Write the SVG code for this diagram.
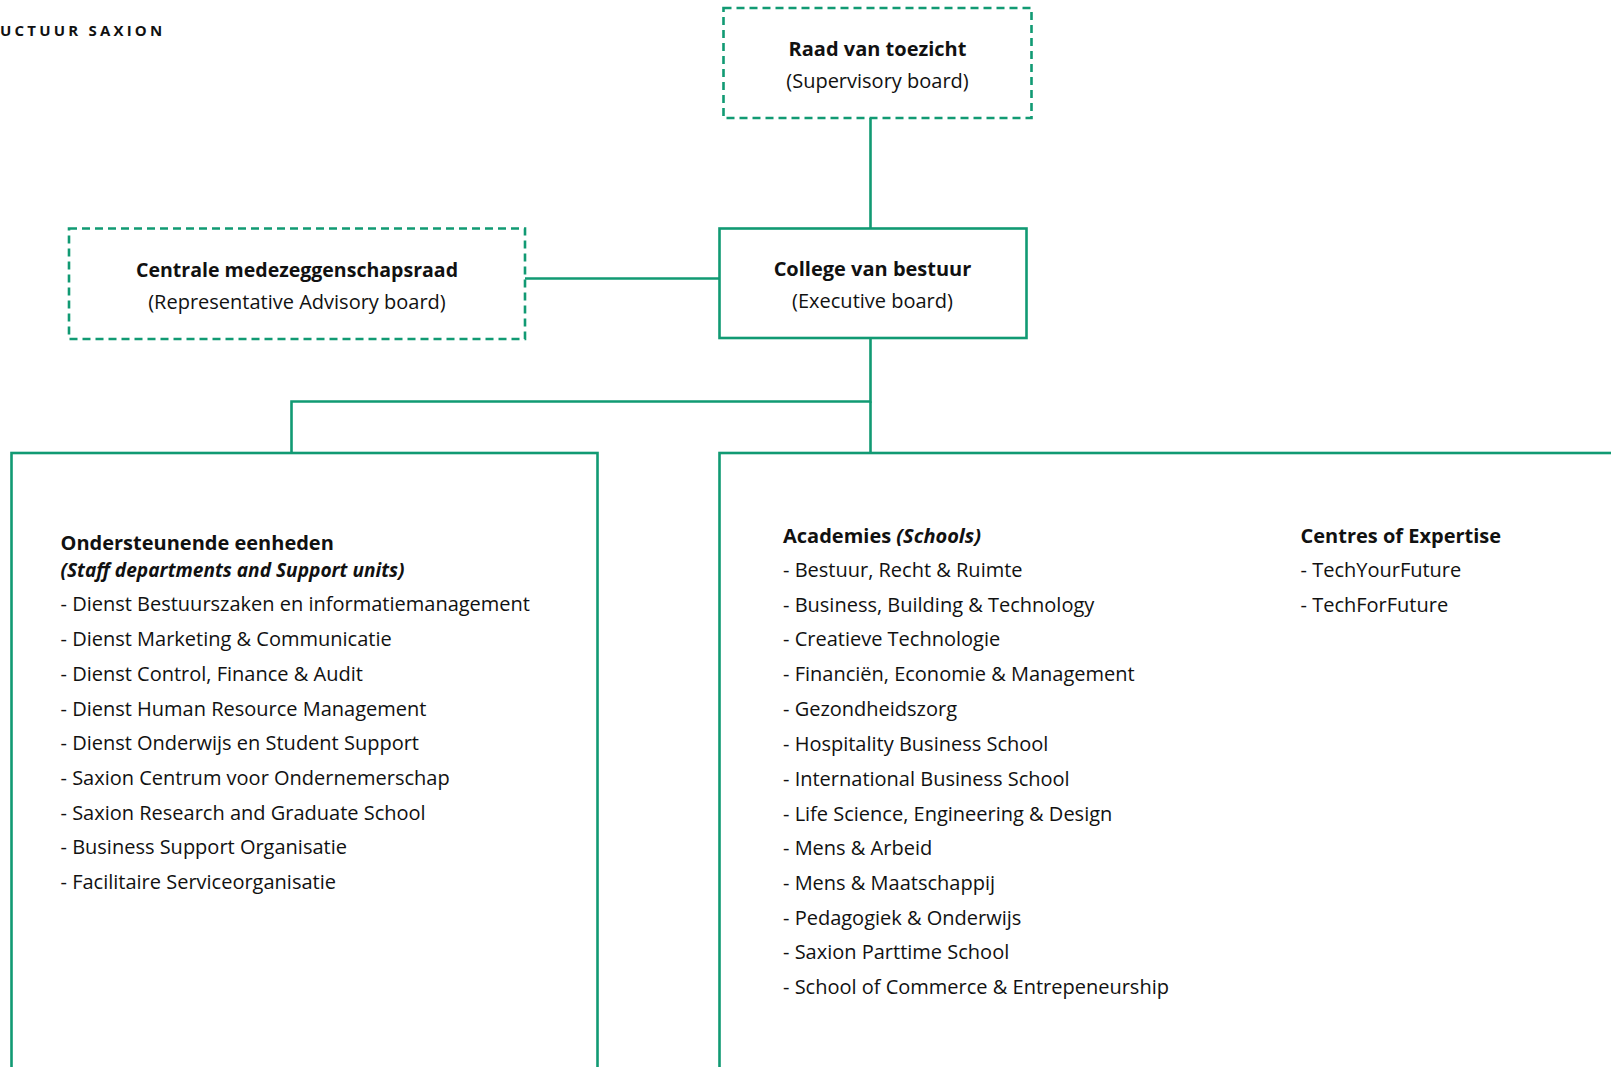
<svg xmlns="http://www.w3.org/2000/svg" width="1611" height="1067" viewBox="0 0 1611 1067">
<style>
.box{fill:#fff;stroke:#119a73;stroke-width:2.6}
.dash{stroke-dasharray:8 5}
.ln{fill:none;stroke:#119a73;stroke-width:2.6}
text{font-family:"Open Sans","Liberation Sans",sans-serif;fill:#111;font-size:20px}
.b{font-weight:700}
.c{text-anchor:middle}
.i{font-style:italic}
.t{font-size:15px;font-weight:700;letter-spacing:3.2px}
</style>
<rect width="1611" height="1067" fill="#fff"/>
<text class="t" x="0" y="36">UCTUUR SAXION</text>
<g id="connectors">
<path class="ln" d="M870.5 118V228"/>
<path class="ln" d="M525 278.5H719"/>
<path class="ln" d="M870.5 338V401.5H291.5V453"/>
<path class="ln" d="M870.5 401.5V453"/>
</g>
<g id="raad">
<rect class="box dash" x="723.5" y="8" width="308" height="110"/>
<text class="b c" x="877.5" y="56">Raad van toezicht</text>
<text class="c" x="877.5" y="88">(Supervisory board)</text>
</g>
<g id="cmr">
<rect class="box dash" x="69" y="228.5" width="456" height="110.5"/>
<text class="b c" x="297" y="277" textLength="322" lengthAdjust="spacingAndGlyphs">Centrale medezeggenschapsraad</text>
<text class="c" x="297" y="309">(Representative Advisory board)</text>
</g>
<g id="cvb">
<rect class="box" x="719.5" y="228.5" width="307" height="109.5"/>
<text class="b c" x="872.5" y="276">College van bestuur</text>
<text class="c" x="872.5" y="308">(Executive board)</text>
</g>
<g id="support">
<rect class="box" x="11.5" y="453" width="586" height="640"/>
<text class="b" x="60.5" y="550">Ondersteunende eenheden</text>
<text class="b i" x="60.5" y="577" textLength="344" lengthAdjust="spacingAndGlyphs">(Staff departments and Support units)</text>
<text x="60.5" y="611">- Dienst Bestuurszaken en informatiemanagement</text>
<text x="60.5" y="646">- Dienst Marketing &amp; Communicatie</text>
<text x="60.5" y="680.5">- Dienst Control, Finance &amp; Audit</text>
<text x="60.5" y="715.5">- Dienst Human Resource Management</text>
<text x="60.5" y="750">- Dienst Onderwijs en Student Support</text>
<text x="60.5" y="784.5">- Saxion Centrum voor Ondernemerschap</text>
<text x="60.5" y="819.5">- Saxion Research and Graduate School</text>
<text x="60.5" y="854">- Business Support Organisatie</text>
<text x="60.5" y="889">- Facilitaire Serviceorganisatie</text>
</g>
<g id="schools">
<rect class="box" x="719.5" y="453" width="960" height="640"/>
<text x="783" y="542.5"><tspan class="b">Academies </tspan><tspan class="b i">(Schools)</tspan></text>
<text x="783" y="576.5">- Bestuur, Recht &amp; Ruimte</text>
<text x="783" y="611.5">- Business, Building &amp; Technology</text>
<text x="783" y="646">- Creatieve Technologie</text>
<text x="783" y="681">- Financiën, Economie &amp; Management</text>
<text x="783" y="716">- Gezondheidszorg</text>
<text x="783" y="751">- Hospitality Business School</text>
<text x="783" y="785.5">- International Business School</text>
<text x="783" y="820.5">- Life Science, Engineering &amp; Design</text>
<text x="783" y="855">- Mens &amp; Arbeid</text>
<text x="783" y="890">- Mens &amp; Maatschappij</text>
<text x="783" y="924.5">- Pedagogiek &amp; Onderwijs</text>
<text x="783" y="959">- Saxion Parttime School</text>
<text x="783" y="993.5">- School of Commerce &amp; Entrepeneurship</text>
</g>
<g id="coe">
<text class="b" x="1300.5" y="542.5">Centres of Expertise</text>
<text x="1300.5" y="576.5">- TechYourFuture</text>
<text x="1300.5" y="611.5">- TechForFuture</text>
</g>
</svg>
